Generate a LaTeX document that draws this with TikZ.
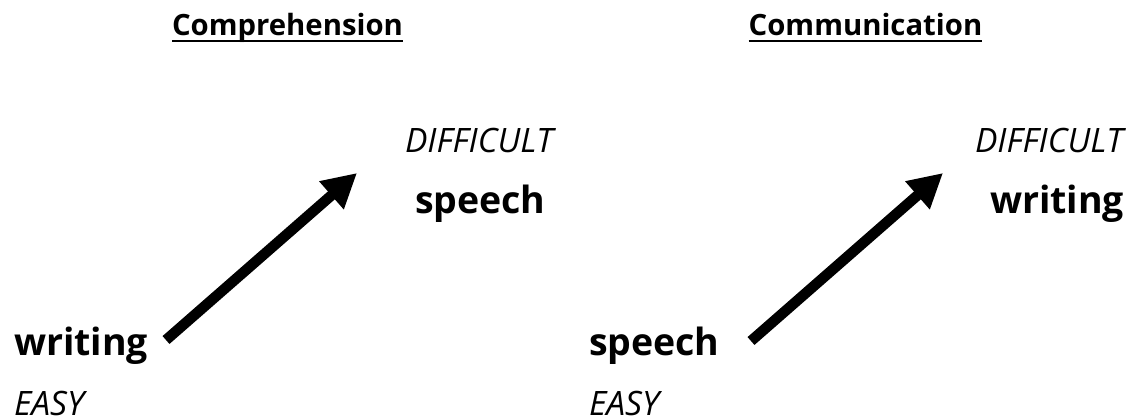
\documentclass[tikz,border=0pt]{standalone}
\usepackage{fontspec}
\setmainfont{Open Sans}
\usetikzlibrary{arrows.meta}
\tikzset{
  lbl/.style={inner sep=0pt, outer sep=0pt},
  titletext/.style={lbl, anchor=base, font=\fontsize{29.3}{32}\selectfont\bfseries},
  word/.style={lbl, anchor=base west, font=\fontsize{37.5}{40}\selectfont\bfseries},
  level/.style={lbl, anchor=base west, font=\fontsize{33.6}{36}\selectfont\itshape},
  uline/.style={line width=2pt},
  bigarrow/.style={line width=10.5pt, -{Triangle[length=34pt,width=35pt]}}
}
\begin{document}
\begin{tikzpicture}[x=1pt,y=-1pt]
\useasboundingbox (0,0) rectangle (1137,420);
% left panel
\node[titletext] (t1) at (287.5,36) {Comprehension};
\draw[uline] ([yshift=-5pt]t1.base west) -- ([yshift=-5pt]t1.base east);
\node[level] (d1) at (405,152) {DIFFICULT};
\node[word] (s1) at (415,213) {speech};
\node[word] (w1) at (14,355) {writing};
\node[level] (e1) at (14,415) {EASY};
\coordinate (a1s) at (166,340);
\coordinate (a1e) at (357,173);
\draw[bigarrow] (a1s) -- (a1e);
% right panel
\node[titletext] (t2) at (865.5,36) {Communication};
\draw[uline] ([yshift=-5pt]t2.base west) -- ([yshift=-5pt]t2.base east);
\node[level] (d2) at (975,152) {DIFFICULT};
\node[word] (w2) at (990,213) {writing};
\node[word] (s2) at (589,355) {speech};
\node[level] (e2) at (589,415) {EASY};
\coordinate (a2s) at (751,341);
\coordinate (a2e) at (943,173);
\draw[bigarrow] (a2s) -- (a2e);
\end{tikzpicture}
\end{document}
